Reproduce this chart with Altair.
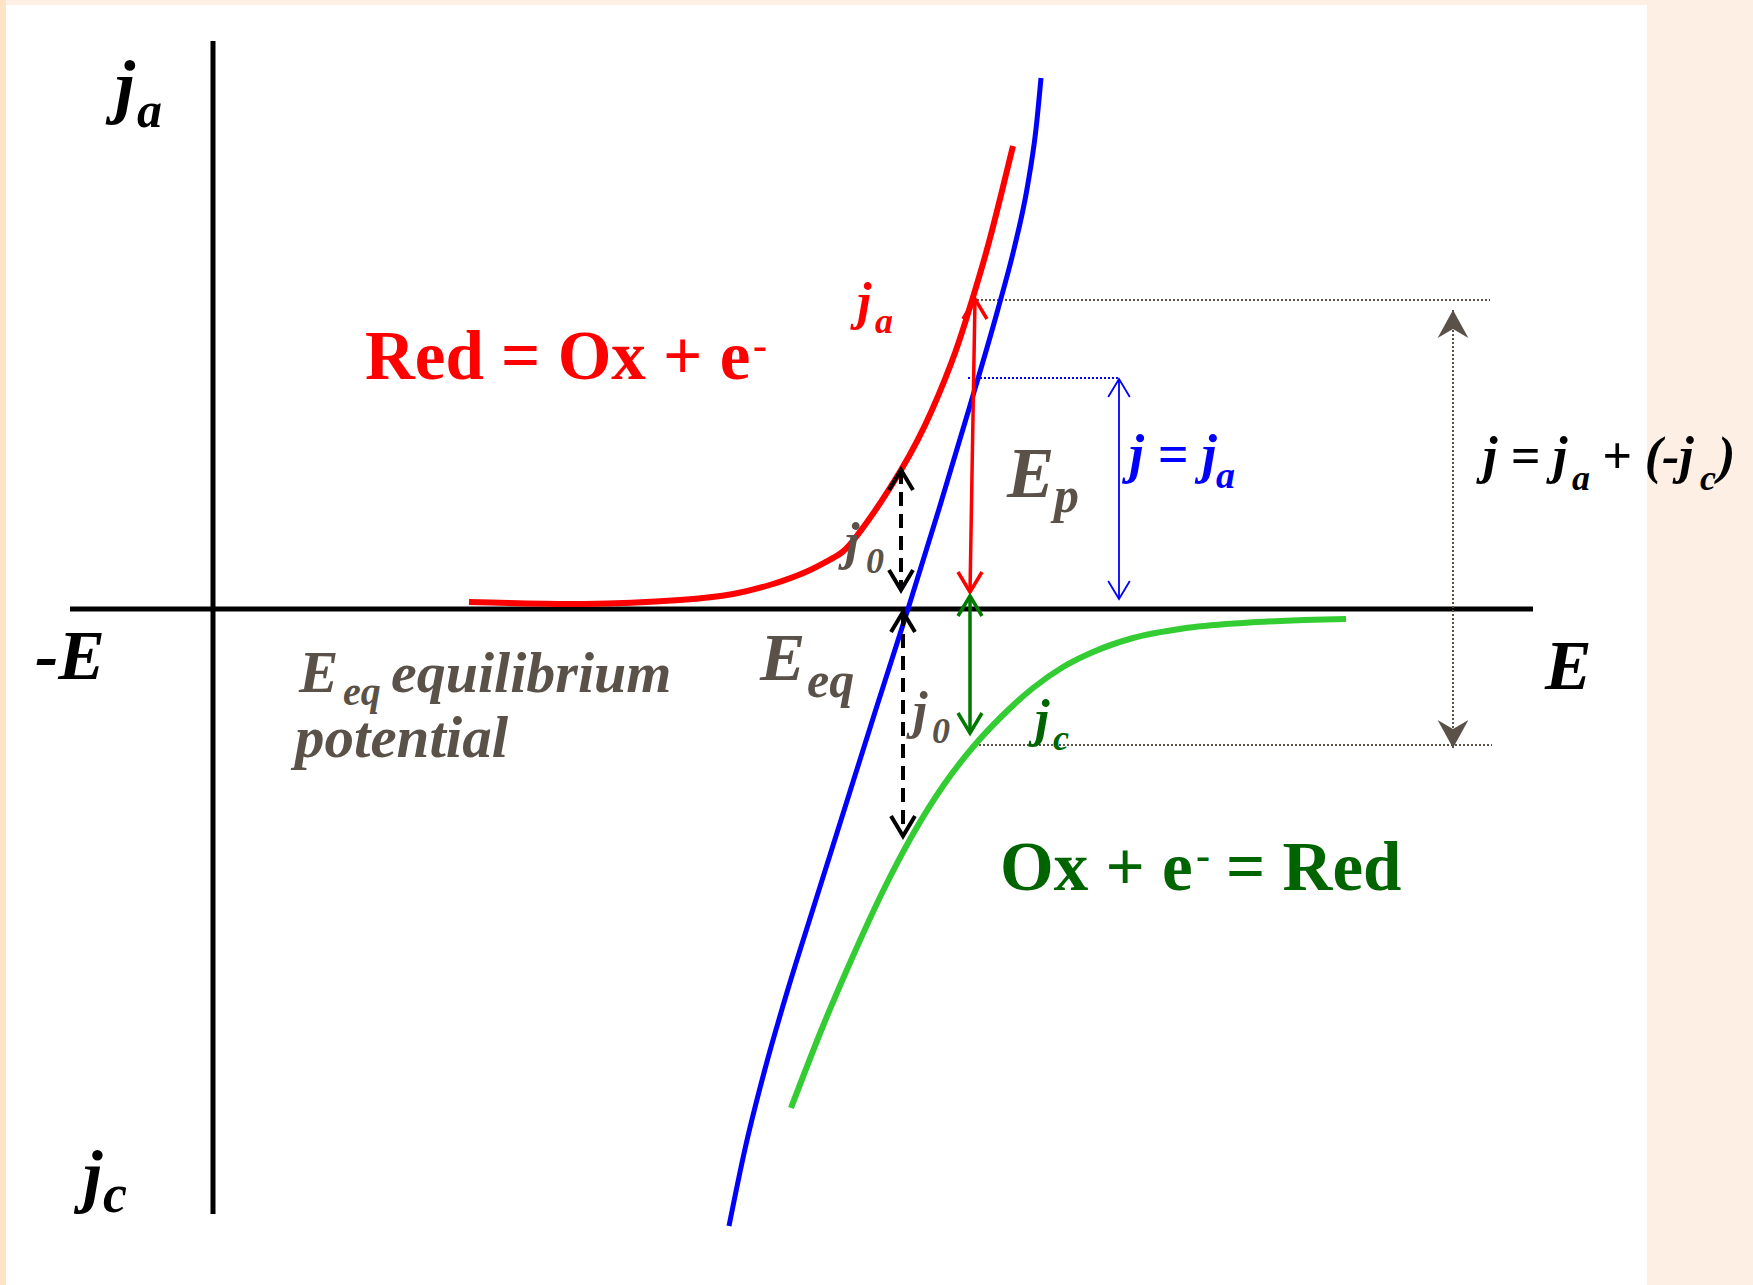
import altair as alt
import pandas as pd

# Canvas and data window (E = electrode potential, j = current density)
W, H = 1753, 1285
E_DOMAIN = [-2.13, 15.40]
J_DOMAIN = [-6.76, 6.09]

# Anodic partial current j_a (Red -> Ox + e-)
anodic_E = [2.56, 3.71, 4.67, 5.20, 5.60, 5.95, 6.20, 6.43, 6.88, 7.19, 7.42, 7.57, 7.73, 7.88, 8.00]
anodic_j = [0.07, 0.05, 0.09, 0.15, 0.25, 0.38, 0.51, 0.72, 1.39, 1.99, 2.56, 3.02, 3.56, 4.14, 4.63]

# Cathodic partial current j_c (Ox + e- -> Red)
cathodic_E = [5.78, 6.10, 6.40, 6.70, 7.00, 7.30, 7.60, 7.90, 8.20, 8.50, 8.80, 9.20, 9.70, 10.30, 11.33]
cathodic_j = [-4.99, -4.17, -3.47, -2.82, -2.25, -1.77, -1.38, -1.06, -0.79, -0.58, -0.43, -0.29, -0.195, -0.14, -0.10]

# Net measured current j = j_a + (-j_c)
net_E = [5.16, 5.32, 5.52, 5.75, 6.00, 6.315, 6.63, 6.95, 7.26, 7.56, 7.85, 8.01, 8.14, 8.23, 8.28]
net_j = [-6.17, -5.40, -4.60, -3.80, -3.00, -2.00, -1.00, 0.00, 1.00, 2.00, 3.00, 3.60, 4.20, 4.80, 5.31]

# Coordinate axes: (E, j, E2, j2)
axes_rows = [(0.0, 5.68, 0.0, -6.05), (-1.43, 0.0, 13.20, 0.0)]

# Double-headed arrows: (E_top, j_top, E_bottom, j_bottom)
j0_arrows = [(6.88, 1.39, 6.88, 0.19), (6.90, -0.03, 6.90, -2.27)]
ja_arrow = [(7.62, 3.10, 7.57, 0.17)]
jc_arrow = [(7.57, 0.13, 7.57, -1.24)]
jnet_arrow = [(9.06, 2.30, 9.06, 0.10)]
sum_arrow = [(12.40, 2.99, 12.40, -1.39)]

# Dotted guide lines
gray_guides = [(7.64, 3.09, 12.77, 3.09), (7.62, -1.36, 12.79, -1.36)]
blue_guides = [(7.55, 2.31, 9.06, 2.31)]

BLACK, GRAY, RED, GREEN, BLUE = "#000000", "#5a5249", "#ff0000", "#006400", "#0000ff"

# Italic labels: (E, j, text, font size, colour)
italic_labels = [
    (-0.98, 4.99, "j", 72, BLACK), (-0.76, 4.82, "a", 50, BLACK),
    (-1.78, -0.70, "-E", 70, BLACK),
    (-1.30, -5.90, "j", 70, BLACK), (-1.10, -6.03, "c", 54, BLACK),
    (13.32, -0.80, "E", 70, BLACK),
    (6.44, 2.90, "j", 52, RED), (6.62, 2.76, "a", 36, RED),
    (7.94, 1.12, "E", 71, GRAY), (8.41, 0.97, "p", 50, GRAY),
    (9.16, 1.37, "j = j", 54, BLUE), (10.03, 1.21, "a", 38, BLUE),
    (12.70, 1.36, "j = j", 52, BLACK), (13.59, 1.19, "a", 36, BLACK),
    (13.89, 1.36, "+ (-j", 52, BLACK), (14.87, 1.19, "c", 36, BLACK),
    (15.05, 1.36, ")", 52, BLACK),
    (6.32, 0.50, "j", 52, GRAY), (6.53, 0.36, "0", 36, GRAY),
    (7.00, -1.19, "j", 52, GRAY), (7.19, -1.34, "0", 36, GRAY),
    (8.22, -1.27, "j", 52, GREEN), (8.40, -1.41, "c", 36, GREEN),
    (5.47, -0.71, "E", 68, GRAY), (5.94, -0.88, "eq", 50, GRAY),
    (0.86, -0.83, "E", 59, GRAY), (1.30, -0.96, "eq", 40, GRAY),
    (1.78, -0.83, "equilibrium", 58, GRAY),
    (0.82, -1.48, "potential", 59, GRAY),
]

# Upright reaction equations
upright_labels = [
    (1.52, 2.30, "Red = Ox + e", 69, RED), (5.40, 2.505, "-", 42, RED),
    (7.87, -2.81, "Ox + e", 69, GREEN), (9.83, -2.595, "-", 42, GREEN),
    (10.13, -2.81, "= Red", 69, GREEN),
]

# Slide panels: (E, j, E2, j2, colour)
panel_rows = [
    (-2.13, 6.09, 15.40, -6.76, "#fdefe3"),
    (-2.13, 6.09, -2.07, -6.76, "#ffe3c6"),
    (-2.07, 6.04, 14.34, -6.76, "#ffffff"),
]

xs = alt.Scale(domain=E_DOMAIN, nice=False, zero=False)
ys = alt.Scale(domain=J_DOMAIN, nice=False, zero=False)


def X(field="E"):
    return alt.X(f"{field}:Q", scale=xs, axis=None)


def Y(field="j"):
    return alt.Y(f"{field}:Q", scale=ys, axis=None)


def seg_df(rows):
    return pd.DataFrame(rows, columns=["E", "j", "E2", "j2"])


def curve(E, J, color, width, interp="monotone"):
    df = pd.DataFrame({"E": E, "j": J, "i": list(range(len(E)))})
    return alt.Chart(df).mark_line(
        color=color, strokeWidth=width, interpolate=interp
    ).encode(x=X(), y=Y(), order="i:Q")


def rules(rows, color, width, dash=None):
    kw = dict(color=color, strokeWidth=width)
    if dash:
        kw["strokeDash"] = dash
    return alt.Chart(seg_df(rows)).mark_rule(**kw).encode(
        x=X(), y=Y(), x2="E2:Q", y2="j2:Q"
    )


V_UP = "M-0.6,1L0,0L0.6,1"
V_DOWN = "M-0.6,-1L0,0L0.6,-1"
STEALTH_UP = "M0,0L0.55,1L0,0.68L-0.55,1Z"
STEALTH_DOWN = "M0,0L0.55,-1L0,-0.68L-0.55,-1Z"


def heads(rows, color, width, size, filled=False, up_shape=V_UP, down_shape=V_DOWN):
    tops = pd.DataFrame([(r[0], r[1]) for r in rows], columns=["E", "j"])
    bottoms = pd.DataFrame([(r[2], r[3]) for r in rows], columns=["E", "j"])
    out = []
    for df, shape in ((tops, up_shape), (bottoms, down_shape)):
        if filled:
            mk = alt.Chart(df).mark_point(shape=shape, filled=True, color=color,
                                          size=size, opacity=1, strokeWidth=0)
        else:
            mk = alt.Chart(df).mark_point(shape=shape, filled=False, color=color,
                                          size=size, opacity=1, strokeWidth=width,
                                          strokeJoin="miter")
        out.append(mk.encode(x=X(), y=Y()))
    return out


def texts(rows, italic):
    df = pd.DataFrame(rows, columns=["E", "j", "text", "size", "color"])
    return alt.Chart(df).mark_text(
        align="left", baseline="alphabetic", font="Liberation Serif",
        fontWeight="bold", fontStyle="italic" if italic else "normal",
    ).encode(
        x=X(), y=Y(), text="text:N",
        size=alt.Size("size:Q", scale=None, legend=None),
        color=alt.Color("color:N", scale=None, legend=None),
    )


panels = alt.Chart(
    pd.DataFrame(panel_rows, columns=["E", "j", "E2", "j2", "color"])
).mark_rect().encode(
    x=X(), y=Y(), x2="E2:Q", y2="j2:Q",
    color=alt.Color("color:N", scale=None, legend=None),
)

layers = [
    panels,
    rules(axes_rows, BLACK, 5),
    rules(gray_guides, GRAY, 2, [2, 2]),
    rules(blue_guides, BLUE, 2, [2, 2]),
    curve(anodic_E, anodic_j, RED, 6, "natural"),
    curve(cathodic_E, cathodic_j, "#33cc33", 6),
    curve(net_E, net_j, BLUE, 5),
    rules(j0_arrows, BLACK, 4, [14, 8]),
    rules(ja_arrow, RED, 3.5),
    rules(jc_arrow, "#007a00", 3.5),
    rules(jnet_arrow, BLUE, 1.8),
    rules(sum_arrow, GRAY, 2, [2, 2]),
]
layers += heads(j0_arrows, BLACK, 4, 1600)
layers += heads(ja_arrow, RED, 3.5, 1600)
layers += heads(jc_arrow, "#007a00", 3.5, 1600)
layers += heads(jnet_arrow, BLUE, 1.8, 1300)
layers += heads(sum_arrow, GRAY, 0, 3136, filled=True,
                up_shape=STEALTH_UP, down_shape=STEALTH_DOWN)
layers += [texts(italic_labels, True), texts(upright_labels, False)]

chart = alt.layer(*layers).properties(
    width=W, height=H, padding=0, autosize="none", background="#fdefe3"
).configure_view(strokeWidth=0)

chart.save("out.html", embed_options={"renderer": "svg", "actions": False})
